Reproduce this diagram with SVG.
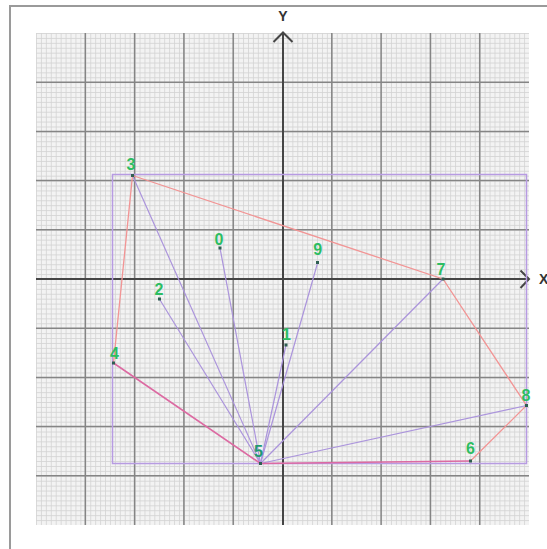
<svg xmlns="http://www.w3.org/2000/svg" width="547" height="549" viewBox="0 0 547 549">
  <defs>
    <pattern id="minor" x="36" y="33" width="4.93" height="4.92" patternUnits="userSpaceOnUse">
      <rect width="4.93" height="4.92" fill="#f3f3f3"/>
      <path d="M0 0.4H4.93M0.4 0V4.92" stroke="#d2d2d2" stroke-width="0.9" fill="none"/>
    </pattern>
    <style>
      .major{stroke:#858585;stroke-width:1.5;fill:none}
      .axis{stroke:#454545;stroke-width:2;fill:none}
      .hull{stroke:#f29494;stroke-width:1.3;fill:none}
      .hulldark{stroke:#dc6aa2;stroke-width:1.6;fill:none}
      .spoke{stroke:#ab94dc;stroke-width:1.2;fill:none}
      .bbox{stroke:#b79be2;stroke-width:1.5;fill:none}
      .dot{fill:#2f5f52}
      .lbl{font-family:"Liberation Sans",Arial,sans-serif;font-weight:bold;font-size:16px;fill:#2dbd62;text-anchor:middle}
      .axlbl{font-family:"Liberation Sans",Arial,sans-serif;font-weight:bold;font-size:14px;fill:#333}
    </style>
  </defs>
  <rect width="547" height="549" fill="#ffffff"/>
  <rect x="10" y="6" width="580" height="580" fill="none" stroke="#9a9a9a" stroke-width="2"/>

  <g id="grid">
    <rect x="36" y="33" width="493" height="492" fill="url(#minor)"/>
    <path class="major" d="M85.3 33V525M134.6 33V525M183.9 33V525M233.2 33V525M331.8 33V525M381.1 33V525M430.4 33V525M479.7 33V525"/>
    <path class="major" d="M36 82.2H529M36 131.4H529M36 180.6H529M36 229.8H529M36 328.2H529M36 377.4H529M36 426.6H529M36 475.8H529"/>
  </g>

  <g id="axes">
    <path class="axis" d="M283 34V525"/>
    <path class="axis" d="M36 279H528"/>
    <path class="axis" d="M273.5 42L283 32.5L292.5 42"/>
    <path class="axis" d="M520.5 270.5L529 279L520.5 288"/>
    <text class="axlbl" x="283" y="21" text-anchor="middle">Y</text>
    <text class="axlbl" x="539" y="284">X</text>
  </g>

  <g id="bounding-box">
    <rect class="bbox" x="112.5" y="174.5" width="414" height="289"/>
  </g>

  <g id="connectors">
    <path class="spoke" d="M260.5 463.5L132.5 175.5"/>
    <path class="spoke" d="M260.5 463.5L159.4 299"/>
    <path class="spoke" d="M260.5 463.5L220 248"/>
    <path class="spoke" d="M260.5 463.5L286 345"/>
    <path class="spoke" d="M260.5 463.5L317.7 262.5"/>
    <path class="spoke" d="M260.5 463.5L443 279"/>
    <path class="spoke" d="M260.5 463.5L526.5 405.5"/>
    <path class="hull" d="M132.5 175.5L443 279L526.5 405.5L470.5 461"/>
    <path class="hull" d="M113.5 363L132.5 175.5"/>
    <path class="hulldark" d="M470.5 461L260.5 463.5L113.5 363"/>
  </g>

  <g id="p0"><rect class="dot" x="218.5" y="246.5" width="3" height="3"/><text class="lbl" x="219" y="245">0</text></g>
  <g id="p1"><rect class="dot" x="284.5" y="343.5" width="3" height="3"/><text class="lbl" x="286.5" y="340">1</text></g>
  <g id="p2"><rect class="dot" x="158" y="297.5" width="3" height="3"/><text class="lbl" x="159" y="294.5">2</text></g>
  <g id="p3"><rect class="dot" x="131" y="174" width="3" height="3"/><text class="lbl" x="131" y="170">3</text></g>
  <g id="p4"><rect class="dot" x="112" y="361.5" width="3" height="3"/><text class="lbl" x="114.5" y="359">4</text></g>
  <g id="p5"><rect class="dot" x="259" y="462" width="3" height="3"/><text class="lbl" x="258.5" y="457" style="fill:#1f9a72">5</text></g>
  <g id="p6"><rect class="dot" x="469" y="459.5" width="3" height="3"/><text class="lbl" x="470.5" y="454">6</text></g>
  <g id="p7"><rect class="dot" x="441.5" y="277.5" width="3" height="3"/><text class="lbl" x="441" y="275">7</text></g>
  <g id="p8"><rect class="dot" x="525" y="404" width="3" height="3"/><text class="lbl" x="526" y="400.5">8</text></g>
  <g id="p9"><rect class="dot" x="316" y="261" width="3" height="3"/><text class="lbl" x="317.8" y="255">9</text></g>
</svg>
